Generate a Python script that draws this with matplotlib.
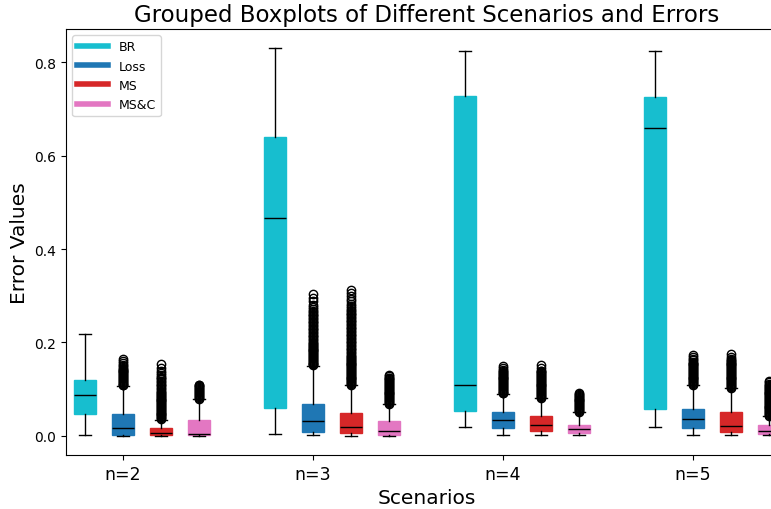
import numpy as np
import matplotlib
matplotlib.use("Agg")
import matplotlib.pyplot as plt
from matplotlib.lines import Line2D


scenarios = ['n=2', 'n=3', 'n=4', 'n=5']
errors = ['BR', 'Loss', 'MS', 'MS&C']
colors = ['#17becf', '#1f77b4', '#d62728', '#e377c2']

# Box statistics, one value per scenario.
whislo = {
    'BR':   [0.002, 0.004, 0.019, 0.019],
    'Loss': [0.000, 0.001, 0.001, 0.001],
    'MS':   [0.000, 0.000, 0.001, 0.001],
    'MS&C': [0.000, 0.000, 0.001, 0.001],
}
q1 = {
    'BR':   [0.047, 0.060, 0.054, 0.058],
    'Loss': [0.002, 0.008, 0.017, 0.017],
    'MS':   [0.002, 0.006, 0.011, 0.008],
    'MS&C': [0.001, 0.003, 0.006, 0.004],
}
med = {
    'BR':   [0.088, 0.466, 0.108, 0.659],
    'Loss': [0.016, 0.033, 0.034, 0.036],
    'MS':   [0.007, 0.019, 0.024, 0.022],
    'MS&C': [0.005, 0.011, 0.014, 0.011],
}
q3 = {
    'BR':   [0.120, 0.640, 0.728, 0.725],
    'Loss': [0.047, 0.068, 0.052, 0.058],
    'MS':   [0.017, 0.049, 0.043, 0.051],
    'MS&C': [0.035, 0.033, 0.024, 0.024],
}
whishi = {
    'BR':   [0.218, 0.830, 0.823, 0.824],
    'Loss': [0.107, 0.150, 0.090, 0.108],
    'MS':   [0.035, 0.108, 0.081, 0.102],
    'MS&C': [0.079, 0.068, 0.051, 0.042],
}

# Outliers (approximate, read from the dense flier columns).
loss_fliers = [
    [0.108, 0.110, 0.112, 0.114, 0.116, 0.118, 0.120, 0.122, 0.124, 0.126,
     0.128, 0.130, 0.132, 0.134, 0.136, 0.138, 0.140, 0.142, 0.144, 0.146,
     0.149, 0.152, 0.156, 0.160, 0.164],
    [0.151, 0.153, 0.155, 0.157, 0.159, 0.161, 0.163, 0.165, 0.167, 0.169,
     0.171, 0.173, 0.175, 0.177, 0.179, 0.181, 0.183, 0.185, 0.187, 0.189,
     0.191, 0.193, 0.195, 0.197, 0.199, 0.202, 0.205, 0.208, 0.211, 0.214,
     0.217, 0.220, 0.223, 0.226, 0.229, 0.232, 0.235, 0.238, 0.241, 0.244,
     0.247, 0.250, 0.253, 0.256, 0.259, 0.262, 0.265, 0.268, 0.272, 0.276,
     0.281, 0.289, 0.296, 0.303],
    [0.091, 0.093, 0.095, 0.097, 0.099, 0.101, 0.103, 0.105, 0.107, 0.109,
     0.111, 0.113, 0.115, 0.117, 0.119, 0.121, 0.123, 0.125, 0.127, 0.129,
     0.131, 0.133, 0.135, 0.137, 0.139, 0.142, 0.146, 0.150],
    [0.109, 0.111, 0.113, 0.115, 0.117, 0.119, 0.121, 0.123, 0.125, 0.127,
     0.129, 0.131, 0.133, 0.135, 0.137, 0.139, 0.141, 0.143, 0.145, 0.147,
     0.149, 0.151, 0.153, 0.155, 0.157, 0.159, 0.162, 0.165, 0.169, 0.174],
]
ms_fliers = [
    [0.036, 0.038, 0.040, 0.042, 0.044, 0.046, 0.048, 0.050, 0.052, 0.054,
     0.056, 0.058, 0.060, 0.062, 0.064, 0.066, 0.068, 0.070, 0.072, 0.074,
     0.076, 0.078, 0.080, 0.082, 0.084, 0.086, 0.088, 0.090, 0.092, 0.094,
     0.097, 0.100, 0.103, 0.106, 0.109, 0.112, 0.115, 0.118, 0.121, 0.124,
     0.127, 0.130, 0.134, 0.139, 0.145, 0.153],
    [0.109, 0.111, 0.113, 0.115, 0.117, 0.119, 0.121, 0.123, 0.125, 0.127,
     0.129, 0.131, 0.133, 0.135, 0.137, 0.139, 0.141, 0.143, 0.145, 0.147,
     0.149, 0.151, 0.153, 0.155, 0.157, 0.159, 0.161, 0.163, 0.165, 0.167,
     0.169, 0.171, 0.174, 0.177, 0.180, 0.183, 0.186, 0.189, 0.192, 0.195,
     0.198, 0.201, 0.204, 0.207, 0.210, 0.213, 0.216, 0.219, 0.222, 0.225,
     0.228, 0.231, 0.234, 0.237, 0.240, 0.243, 0.246, 0.249, 0.252, 0.255,
     0.258, 0.261, 0.264, 0.267, 0.270, 0.274, 0.278, 0.283, 0.288, 0.293,
     0.299, 0.305, 0.313],
    [0.082, 0.084, 0.086, 0.088, 0.090, 0.092, 0.094, 0.096, 0.098, 0.100,
     0.102, 0.104, 0.106, 0.108, 0.110, 0.112, 0.114, 0.116, 0.118, 0.120,
     0.122, 0.124, 0.126, 0.128, 0.130, 0.132, 0.134, 0.136, 0.138, 0.140,
     0.146, 0.152],
    [0.103, 0.105, 0.107, 0.109, 0.111, 0.113, 0.115, 0.117, 0.119, 0.121,
     0.123, 0.125, 0.127, 0.129, 0.131, 0.133, 0.135, 0.137, 0.139, 0.141,
     0.143, 0.145, 0.147, 0.149, 0.151, 0.153, 0.155, 0.157, 0.159, 0.161,
     0.163, 0.165, 0.170, 0.175],
]
msc_fliers = [
    [0.080, 0.082, 0.084, 0.086, 0.088, 0.090, 0.092, 0.094, 0.096, 0.098,
     0.100, 0.102, 0.104, 0.106, 0.108, 0.110],
    [0.069, 0.071, 0.073, 0.075, 0.077, 0.079, 0.081, 0.083, 0.085, 0.087,
     0.089, 0.091, 0.093, 0.095, 0.097, 0.099, 0.101, 0.103, 0.105, 0.107,
     0.109, 0.111, 0.113, 0.115, 0.117, 0.119, 0.121, 0.123, 0.125, 0.128,
     0.131],
    [0.052, 0.054, 0.056, 0.058, 0.060, 0.062, 0.064, 0.066, 0.068, 0.070,
     0.072, 0.074, 0.076, 0.078, 0.080, 0.082, 0.084, 0.086, 0.088, 0.090,
     0.092],
    [0.043, 0.045, 0.047, 0.049, 0.051, 0.053, 0.055, 0.057, 0.059, 0.061,
     0.063, 0.065, 0.067, 0.069, 0.071, 0.073, 0.075, 0.077, 0.079, 0.081,
     0.083, 0.085, 0.087, 0.089, 0.091, 0.093, 0.095, 0.097, 0.099, 0.101,
     0.103, 0.105, 0.107, 0.109, 0.112, 0.115, 0.118],
]
fliers = {
    'BR': [[], [], [], []],
    'Loss': loss_fliers,
    'MS': ms_fliers,
    'MS&C': msc_fliers,
}


fig = plt.figure(figsize=(7.71, 5.10), dpi=100)
# The original axes runs past the right edge of the figure.
ax = fig.add_axes([0.0856, 0.106, 0.9364, 0.835])

group_gap = len(errors) + 1
for j, err in enumerate(errors):
    stats = []
    for i in range(len(scenarios)):
        stats.append(dict(med=med[err][i], q1=q1[err][i], q3=q3[err][i],
                          whislo=whislo[err][i], whishi=whishi[err][i],
                          fliers=fliers[err][i]))
    positions = np.arange(len(scenarios)) * group_gap + j - 1
    ax.bxp(stats, positions=positions, widths=0.6, patch_artist=True,
           manage_ticks=False,
           boxprops=dict(facecolor=colors[j], edgecolor=colors[j]),
           medianprops=dict(color='black'),
           whiskerprops=dict(color='black'),
           capprops=dict(color='black'),
           flierprops=dict(marker='o', markerfacecolor='none',
                           markeredgecolor='black', markersize=6))

ax.set_xticks(np.arange(len(scenarios)) * group_gap)
ax.set_xticklabels(scenarios, fontsize=12.5)
ax.set_xlim(-1.5, (len(scenarios) - 1) * group_gap + len(errors) - 1.5)
ax.set_ylim(-0.0406, 0.8706)
ax.tick_params(axis='y', labelsize=10)

ax.set_title('Grouped Boxplots of Different Scenarios and Errors', fontsize=16.5)
ax.set_xlabel('Scenarios', fontsize=14.5)
ax.set_ylabel('Error Values', fontsize=14.5)

handles = [Line2D([0], [0], color=c, lw=4) for c in colors]
ax.legend(handles, errors, loc='upper left', fontsize=9, handlelength=2.5)

fig.savefig('out.png', dpi=100)
